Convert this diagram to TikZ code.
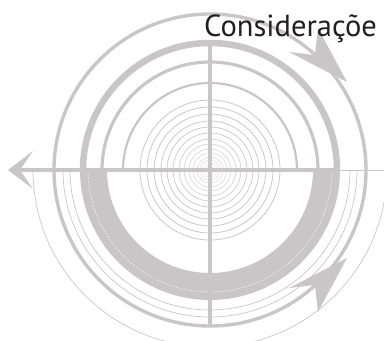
\documentclass[tikz,border=0pt]{standalone}
\usepackage{fontspec}
\setmainfont{PT Sans}
\begin{document}
\begin{tikzpicture}[x=1pt,y=1pt]
\definecolor{lg}{RGB}{202,198,199}
\definecolor{txt}{RGB}{35,31,32}
\tikzset{
  thinarc/.style={draw=lg, line width=0.7pt},
  axisline/.style={draw=lg, line width=3.4pt},
  ahead/.style={fill=lg, draw=none},
}
\useasboundingbox (-210,-171) rectangle (174,170);
\coordinate (C) at (0,0);
% lower thin arcs
\draw[thinarc] (-177,0) arc (180:360:177);
\draw[thinarc] (-177,0) -- (177,0);
\draw[thinarc] (-147,0) arc (180:360:147);
\draw[thinarc] (-140,0) arc (180:360:140);
% lower band
\fill[lg] (-130,0) arc (180:360:130) -- (103,0) arc (0:-180:103) -- cycle;
\draw[white, line width=0.4pt, dash pattern=on 2pt off 1.5pt] (-122,0) arc (180:360:122);
% upper rings
\draw[lg, line width=6.5pt] (127,0) arc (0:180:127);
\draw[lg, line width=3.2pt] (108,0) arc (0:180:108);
\draw[lg, line width=2.2pt] (87,0) arc (0:180:87);
% concentric circles
\foreach \r/\o in {70/1,63/1,56/1,49/0.95,43/0.9,37/0.85,31/0.8,26/0.7,21/0.6,17/0.55,13/0.5,10/0.45,7/0.4,4/0.35}
  \draw[lg, line width=0.8pt, opacity=\o] (C) circle (\r);
% outer circle
\draw[lg, line width=3.4pt] (C) circle (156);
% axes
\coordinate (L) at (-195,0);
\coordinate (R) at (127,0);
\coordinate (T) at (0,130);
\coordinate (B) at (0,-157);
\draw[axisline] (L) -- (R);
\draw[axisline] (T) -- (B);
% arrowheads
\fill[ahead] (-202,0) -- (-177,19) -- (-190,0) -- (-177,-19) -- cycle;
\fill[ahead] (137,88) -- (79,118) -- (105,115) -- (108,142) -- cycle;
\fill[ahead] (137,-88) -- (79,-118) -- (105,-115) -- (108,-142) -- cycle;
% title
\node[anchor=base west, text=txt, font=\fontsize{30.5}{30.5}\selectfont, inner sep=0pt] (title) at (-6,134) {Consideraçõe};
\end{tikzpicture}
\end{document}
